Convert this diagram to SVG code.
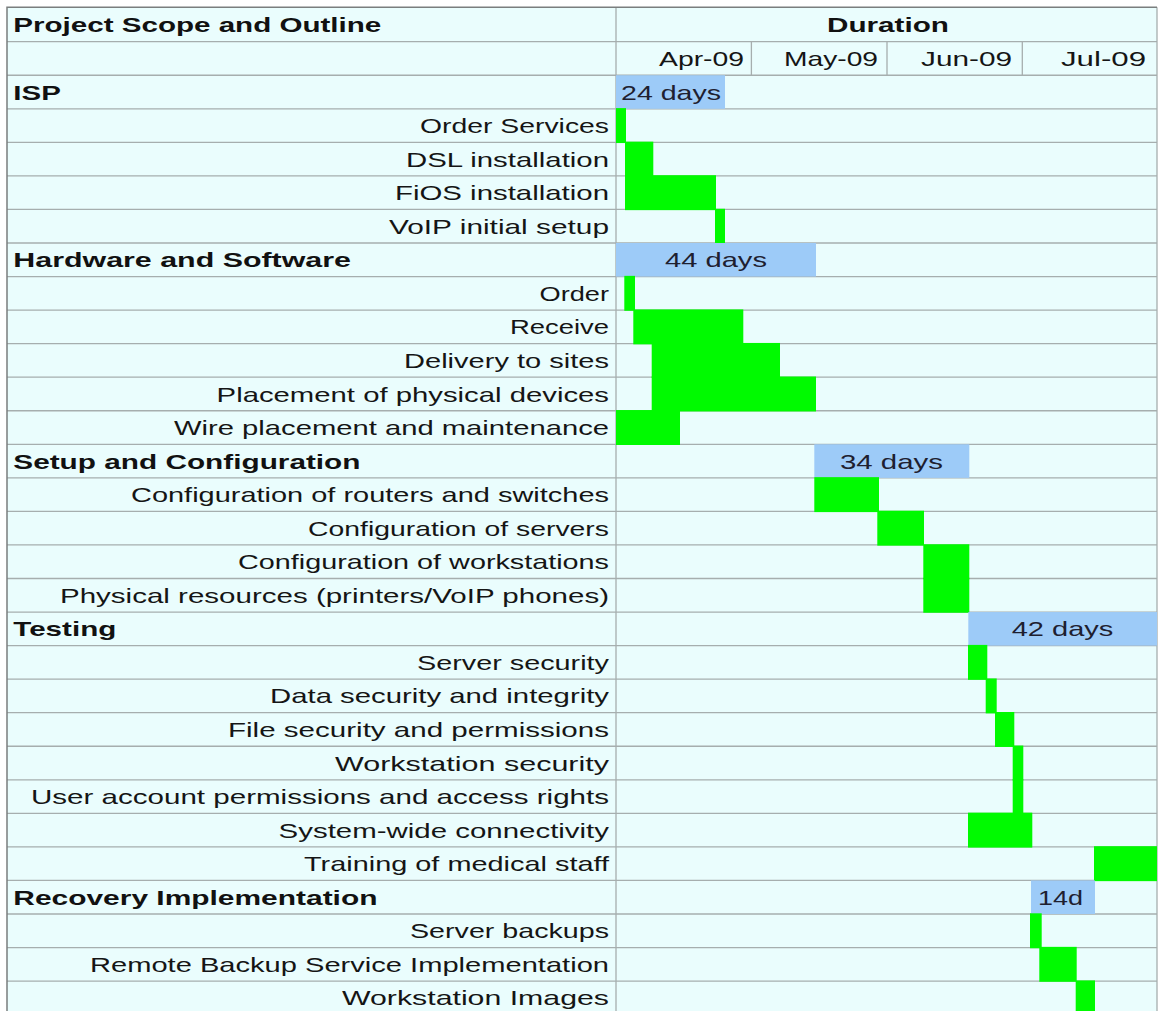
<svg xmlns="http://www.w3.org/2000/svg" width="1158" height="1011" viewBox="0 0 1158 1011">
<style>
.bg{fill:#EAFDFD}
.gl{stroke:#A6AEAE;stroke-width:1.3;fill:none}
.bd{stroke:#7A7E7E;stroke-width:1.5;fill:none}
.t{font-family:"Liberation Sans",Arial,sans-serif;font-size:21px;fill:#151515}
.b{font-family:"Liberation Sans",Arial,sans-serif;font-size:21px;font-weight:bold;fill:#111}
.bt{font-family:"Liberation Sans",Arial,sans-serif;font-size:21px;fill:#1E2030}
.sum{fill:#9DCBF8}
.task{fill:#00FA00}
</style>
<rect x="0" y="0" width="1158" height="1011" fill="#FFFFFF"/>
<rect class="bg" x="7" y="7.3" width="1150" height="1004"/>
<g id="grid">
<path class="gl" d="M7 41.7H1157M7 75.25H1157M7 108.8H1157M7 142.35H1157M7 175.9H1157M7 209.45H1157M7 243H1157M7 276.55H1157M7 310.1H1157M7 343.65H1157M7 377.2H1157M7 410.75H1157M7 444.3H1157M7 477.85H1157M7 511.4H1157M7 544.95H1157M7 578.5H1157M7 612.05H1157M7 645.6H1157M7 679.15H1157M7 712.7H1157M7 746.25H1157M7 779.8H1157M7 813.35H1157M7 846.9H1157M7 880.45H1157M7 914H1157M7 947.55H1157M7 981.1H1157"/>
<path class="gl" d="M616 7.3V1011M751.4 41.7V75.25M887 41.7V75.25M1022.3 41.7V75.25M1157 7.3V1011"/>
<path class="bd" d="M7 1011V7.3H1157"/>
</g>
<g id="header">
<text class="b" x="13.3" y="32" textLength="368" lengthAdjust="spacingAndGlyphs">Project Scope and Outline</text>
<text class="b" x="827" y="32" textLength="122" lengthAdjust="spacingAndGlyphs">Duration</text>
<text class="t" x="659" y="66" textLength="85" lengthAdjust="spacingAndGlyphs">Apr-09</text>
<text class="t" x="784" y="66" textLength="94" lengthAdjust="spacingAndGlyphs">May-09</text>
<text class="t" x="921" y="66" textLength="91" lengthAdjust="spacingAndGlyphs">Jun-09</text>
<text class="t" x="1061" y="66" textLength="85" lengthAdjust="spacingAndGlyphs">Jul-09</text>
</g>
<g id="isp">
<rect class="sum" x="616" y="75.25" width="109" height="33.55"/>
<text class="b" x="13.3" y="99.55" textLength="47.5" lengthAdjust="spacingAndGlyphs">ISP</text>
<text class="bt" x="621" y="99.55" textLength="100" lengthAdjust="spacingAndGlyphs">24 days</text>
</g>
<g id="order-services"><rect class="task" x="616" y="108.1" width="10" height="34.95"/><text class="t" x="420" y="133.1" textLength="189" lengthAdjust="spacingAndGlyphs">Order Services</text></g>
<g id="dsl-installation"><rect class="task" x="625" y="141.65" width="28.3" height="34.95"/><text class="t" x="406" y="166.65" textLength="203" lengthAdjust="spacingAndGlyphs">DSL installation</text></g>
<g id="fios-installation"><rect class="task" x="625" y="175.2" width="91" height="34.95"/><text class="t" x="395" y="200.2" textLength="214" lengthAdjust="spacingAndGlyphs">FiOS installation</text></g>
<g id="voip-initial-setup"><rect class="task" x="715" y="208.75" width="10" height="34.95"/><text class="t" x="389" y="233.75" textLength="220" lengthAdjust="spacingAndGlyphs">VoIP initial setup</text></g>
<g id="hardware-software">
<rect class="sum" x="616" y="243" width="200" height="33.55"/>
<text class="b" x="13.3" y="267.3" textLength="337.7" lengthAdjust="spacingAndGlyphs">Hardware and Software</text>
<text class="bt" x="665" y="267.3" textLength="102" lengthAdjust="spacingAndGlyphs">44 days</text>
</g>
<g id="order"><rect class="task" x="624.3" y="275.85" width="10.7" height="34.95"/><text class="t" x="539.5" y="300.85" textLength="69.5" lengthAdjust="spacingAndGlyphs">Order</text></g>
<g id="receive"><rect class="task" x="633.3" y="309.4" width="110" height="34.95"/><text class="t" x="510" y="334.4" textLength="99" lengthAdjust="spacingAndGlyphs">Receive</text></g>
<g id="delivery-to-sites"><rect class="task" x="651.7" y="342.95" width="128.3" height="34.95"/><text class="t" x="404" y="367.95" textLength="205" lengthAdjust="spacingAndGlyphs">Delivery to sites</text></g>
<g id="placement-of-physical-devices"><rect class="task" x="651.7" y="376.5" width="164.3" height="34.95"/><text class="t" x="216.6" y="401.5" textLength="392.4" lengthAdjust="spacingAndGlyphs">Placement of physical devices</text></g>
<g id="wire-placement"><rect class="task" x="616" y="410.05" width="64" height="34.95"/><text class="t" x="174" y="435.05" textLength="435" lengthAdjust="spacingAndGlyphs">Wire placement and maintenance</text></g>
<g id="setup-configuration">
<rect class="sum" x="814.3" y="444.3" width="155" height="33.55"/>
<text class="b" x="13.3" y="468.6" textLength="347.2" lengthAdjust="spacingAndGlyphs">Setup and Configuration</text>
<text class="bt" x="840" y="468.6" textLength="103" lengthAdjust="spacingAndGlyphs">34 days</text>
</g>
<g id="config-routers"><rect class="task" x="814.3" y="477.15" width="64.7" height="34.95"/><text class="t" x="131" y="502.15" textLength="478" lengthAdjust="spacingAndGlyphs">Configuration of routers and switches</text></g>
<g id="config-servers"><rect class="task" x="877.3" y="510.7" width="46.7" height="34.95"/><text class="t" x="308" y="535.7" textLength="301" lengthAdjust="spacingAndGlyphs">Configuration of servers</text></g>
<g id="config-workstations"><rect class="task" x="923.3" y="544.25" width="46" height="34.95"/><text class="t" x="238" y="569.25" textLength="371" lengthAdjust="spacingAndGlyphs">Configuration of workstations</text></g>
<g id="physical-resources"><rect class="task" x="923.3" y="577.8" width="46" height="34.95"/><text class="t" x="60" y="602.8" textLength="549" lengthAdjust="spacingAndGlyphs">Physical resources (printers/VoIP phones)</text></g>
<g id="testing">
<rect class="sum" x="968.3" y="612.05" width="188.7" height="33.55"/>
<text class="b" x="13.3" y="636.35" textLength="103" lengthAdjust="spacingAndGlyphs">Testing</text>
<text class="bt" x="1011.7" y="636.35" textLength="101.7" lengthAdjust="spacingAndGlyphs">42 days</text>
</g>
<g id="server-security"><rect class="task" x="968" y="644.9" width="19.3" height="34.95"/><text class="t" x="417" y="669.9" textLength="192" lengthAdjust="spacingAndGlyphs">Server security</text></g>
<g id="data-security"><rect class="task" x="985.7" y="678.45" width="11" height="34.95"/><text class="t" x="270" y="703.45" textLength="339" lengthAdjust="spacingAndGlyphs">Data security and integrity</text></g>
<g id="file-security"><rect class="task" x="995" y="712" width="19.3" height="34.95"/><text class="t" x="228" y="737" textLength="381" lengthAdjust="spacingAndGlyphs">File security and permissions</text></g>
<g id="workstation-security"><rect class="task" x="1012.7" y="745.55" width="10.6" height="34.95"/><text class="t" x="335" y="770.55" textLength="274" lengthAdjust="spacingAndGlyphs">Workstation security</text></g>
<g id="user-account-permissions"><rect class="task" x="1012.7" y="779.1" width="10.6" height="34.95"/><text class="t" x="31" y="804.1" textLength="578" lengthAdjust="spacingAndGlyphs">User account permissions and access rights</text></g>
<g id="system-wide-connectivity"><rect class="task" x="968" y="812.65" width="64.3" height="34.95"/><text class="t" x="278.6" y="837.65" textLength="330.4" lengthAdjust="spacingAndGlyphs">System-wide connectivity</text></g>
<g id="training"><rect class="task" x="1094" y="846.2" width="63" height="34.95"/><text class="t" x="304" y="871.2" textLength="305" lengthAdjust="spacingAndGlyphs">Training of medical staff</text></g>
<g id="recovery-implementation">
<rect class="sum" x="1031" y="880.45" width="64" height="33.55"/>
<text class="b" x="13.3" y="904.75" textLength="364.2" lengthAdjust="spacingAndGlyphs">Recovery Implementation</text>
<text class="bt" x="1038" y="904.75" textLength="45" lengthAdjust="spacingAndGlyphs">14d</text>
</g>
<g id="server-backups"><rect class="task" x="1030" y="913.3" width="11.7" height="34.95"/><text class="t" x="410" y="938.3" textLength="199" lengthAdjust="spacingAndGlyphs">Server backups</text></g>
<g id="remote-backup"><rect class="task" x="1039.3" y="946.85" width="37.4" height="34.95"/><text class="t" x="90" y="971.85" textLength="519" lengthAdjust="spacingAndGlyphs">Remote Backup Service Implementation</text></g>
<g id="workstation-images"><rect class="task" x="1075.7" y="980.4" width="19.3" height="31"/><text class="t" x="342" y="1005.4" textLength="267" lengthAdjust="spacingAndGlyphs">Workstation Images</text></g>
<g id="connectors"/>
</svg>
